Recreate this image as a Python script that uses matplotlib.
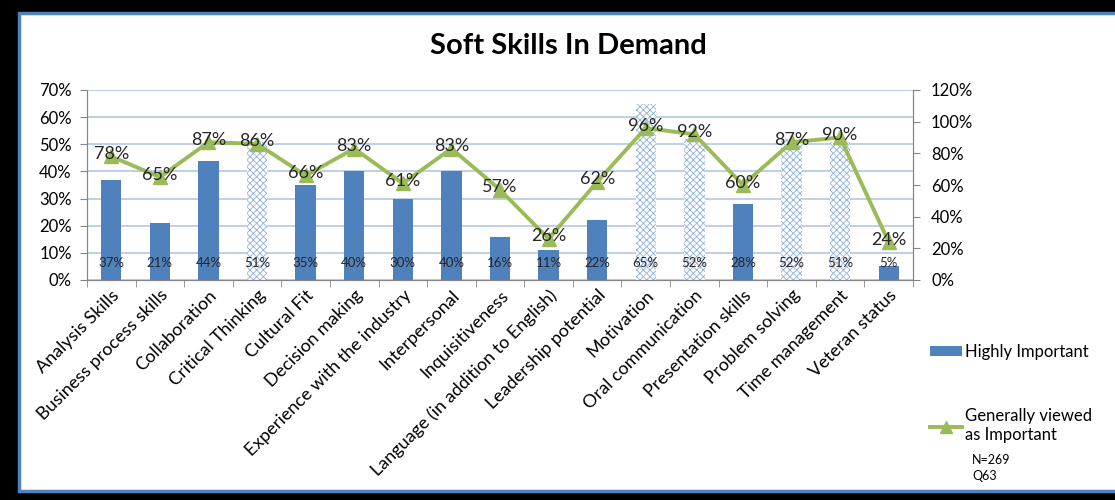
import matplotlib
matplotlib.use('Agg')
import matplotlib.pyplot as plt
from matplotlib.patches import Rectangle, Patch
from matplotlib.lines import Line2D
import numpy as np

plt.rcParams['font.family'] = ['Lato', 'DejaVu Sans']
plt.rcParams['hatch.linewidth'] = 0.6

# Survey data (N=269, Q63)
skills = ['Analysis Skills', 'Business process skills', 'Collaboration',
          'Critical Thinking', 'Cultural Fit', 'Decision making',
          'Experience with the industry', 'Interpersonal', 'Inquisitiveness',
          'Language (in addition to English)', 'Leadership potential',
          'Motivation', 'Oral communication', 'Presentation skills',
          'Problem solving', 'Time management', 'Veteran status']
highly = [37, 21, 44, 51, 35, 40, 30, 40, 16, 11, 22, 65, 52, 28, 52, 51, 5]
generally = [78, 65, 87, 86, 66, 83, 61, 83, 57, 26, 62, 96, 92, 60, 87, 90, 24]
# bars drawn with the wavy pattern fill in the original
patterned = ['Critical Thinking', 'Motivation', 'Oral communication',
             'Problem solving', 'Time management']

blue = '#4f81bd'
green = '#9bbb59'
grid_col = '#b4c7e7'

fig = plt.figure(figsize=(11.15, 5), dpi=100)

# frame round the chart
fig.patches.append(Rectangle((0, 0), 1, 1, transform=fig.transFigure,
                             facecolor='black', edgecolor='none', zorder=-10))
fig.patches.append(Rectangle((19/1115, 9/500), 1 - 19/1115 + 0.01, 1 - 22/500,
                             transform=fig.transFigure, facecolor='white',
                             edgecolor=blue, linewidth=2.5, zorder=-9))

ax = fig.add_axes([87/1115, 220/500, 826/1115, 190/500])
ax2 = ax.twinx()

x = np.arange(len(skills))
for i, s in enumerate(skills):
    if s in patterned:
        ax.bar(x[i], highly[i], width=0.42, color='white', edgecolor='#8fb0dd',
               hatch='xxxxx', linewidth=0, zorder=2)
    else:
        ax.bar(x[i], highly[i], width=0.42, color=blue, zorder=2)
    ax.text(x[i], 6.3, '%d%%' % highly[i], ha='center', va='center',
            fontsize=9.5, color='#262626', zorder=5)

ax.set_ylim(0, 70)
ax.set_xlim(-0.5, len(skills) - 0.5)
ax.set_yticks(range(0, 71, 10))
ax.set_yticklabels(['%d%%' % v for v in range(0, 71, 10)], fontsize=12)
ax.yaxis.grid(True, color=grid_col, linewidth=1.2)
ax.set_axisbelow(True)

# category ticks between bars, labels at bar centres
ax.set_xticks(x)
ax.set_xticklabels(skills, rotation=45, ha='right', rotation_mode='anchor',
                   fontsize=13)
ax.tick_params(axis='x', length=0, pad=5)
ax.set_xticks(np.arange(-0.5, len(skills)), minor=True)
ax.tick_params(axis='x', which='minor', length=5, color='#868686')
ax.tick_params(axis='y', length=5, color='#868686', pad=6)

ax2.plot(x, generally, color=green, linewidth=2.8, marker='^', markersize=10,
         zorder=4)
for i, v in enumerate(generally):
    ax2.text(x[i], v + 1.5, '%d%%' % v, ha='center', va='center', fontsize=13,
             color='#262626', zorder=6)
ax2.set_ylim(0, 120)
ax2.set_yticks(range(0, 121, 20))
ax2.set_yticklabels(['%d%%' % v for v in range(0, 121, 20)], fontsize=12)
ax2.tick_params(axis='y', length=5, color='#868686', pad=8)

for a in (ax, ax2):
    a.spines['top'].set_visible(False)
    for sp in ('left', 'right', 'bottom'):
        a.spines[sp].set_color('#868686')
ax.set_zorder(ax2.get_zorder() - 1)
ax.patch.set_visible(False)
ax2.patch.set_visible(False)

fig.text(568/1115, 1 - 46/500, 'Soft Skills In Demand', ha='center',
         va='center', fontsize=21, fontweight='bold')

handles = [Patch(facecolor=blue, edgecolor='none'),
           Line2D([], [], color=green, linewidth=2.8, marker='^', markersize=9)]
fig.legend(handles, ['Highly Important', 'Generally viewed\nas Important'],
           loc='upper left', bbox_to_anchor=(915/1115, 1 - 329/500),
           frameon=False, fontsize=12, labelspacing=2.9, handlelength=1.9,
           handleheight=0.5, handletextpad=0.2)
fig.text(972/1115, 1 - 468/500, 'N=269\nQ63', ha='left', va='center',
         fontsize=9, linespacing=1.3)

fig.savefig('out.png', dpi=100)
